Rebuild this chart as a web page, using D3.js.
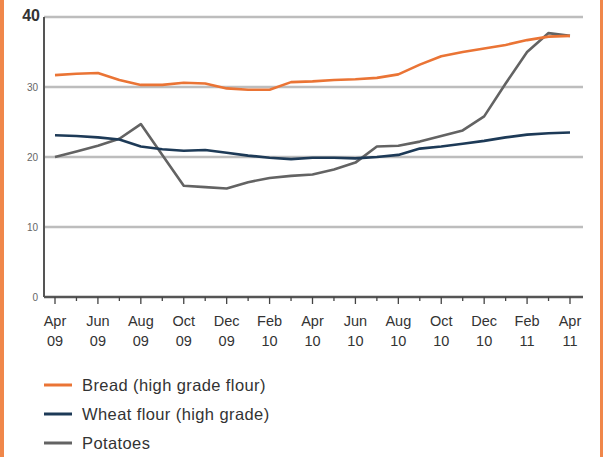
<!DOCTYPE html>
<html>
<head>
<meta charset="utf-8">
<script src="https://cdn.jsdelivr.net/npm/d3@7"></script>
<style>
  body { margin: 0; background: #fff; }
  svg { display: block; font-family: "Liberation Sans", Arial, sans-serif; }
</style>
</head>
<body>
<div id="chart"></div>
<script>
// monthly, Apr 2009 .. Apr 2011
var months = ["2009-04","2009-05","2009-06","2009-07","2009-08","2009-09","2009-10","2009-11","2009-12",
              "2010-01","2010-02","2010-03","2010-04","2010-05","2010-06","2010-07","2010-08","2010-09",
              "2010-10","2010-11","2010-12","2011-01","2011-02","2011-03","2011-04"];

var bread = [31.7, 31.9, 32.0, 31.0, 30.3, 30.3, 30.6, 30.5, 29.8, 29.6, 29.6, 30.7, 30.8,
             31.0, 31.1, 31.3, 31.8, 33.2, 34.4, 35.0, 35.5, 36.0, 36.7, 37.2, 37.3];
var wheat = [23.1, 23.0, 22.8, 22.5, 21.5, 21.1, 20.9, 21.0, 20.6, 20.2, 19.9, 19.7, 19.9,
             19.9, 19.8, 20.0, 20.3, 21.2, 21.5, 21.9, 22.3, 22.8, 23.2, 23.4, 23.5];
var potatoes = [20.0, 20.8, 21.6, 22.6, 24.7, 20.3, 15.9, 15.7, 15.5, 16.4, 17.0, 17.3, 17.5,
                18.2, 19.2, 21.5, 21.6, 22.2, 23.0, 23.8, 25.8, 30.5, 35.0, 37.7, 37.3];

var tickMonths = ["Apr","Jun","Aug","Oct","Dec","Feb","Apr","Jun","Aug","Oct","Dec","Feb","Apr"];
var tickYears  = ["09","09","09","09","09","10","10","10","10","10","10","11","11"];
var yTicks = [0, 10, 20, 30, 40];

var series = [
    {name: "Bread (high grade flour)", values: bread, color: "#ea7435"},
    {name: "Wheat flour (high grade)", values: wheat, color: "#1d3a57"},
    {name: "Potatoes", values: potatoes, color: "#636363"}
];

var W = 603, H = 457;
var svg = d3.select("#chart").append("svg").attr("width", W).attr("height", H);

// orange frame edges
svg.append("rect").attr("x", 0).attr("y", 0).attr("width", 4).attr("height", H).attr("fill", "#f0874a");
svg.append("rect").attr("x", 600).attr("y", 0).attr("width", 3).attr("height", H).attr("fill", "#f0874a");

var x = d3.scalePoint().domain(months).range([55, 570]);
var y = d3.scaleLinear().domain([0, 40]).range([297, 17]);
var left = 44, right = 583;

// grid
svg.append("g").selectAll("line")
    .data(yTicks.filter(function(d) { return d > 0; }))
    .enter().append("line")
    .attr("x1", left).attr("x2", right)
    .attr("y1", function(d) { return y(d); }).attr("y2", function(d) { return y(d); })
    .attr("stroke", "#bdbdbd").attr("stroke-width", 2.5);

// y labels
svg.append("g").selectAll("text")
    .data(yTicks)
    .enter().append("text")
    .attr("x", function(d) { return d === 40 ? 40 : 38; })
    .attr("y", function(d) { return y(d) + (d === 40 ? 4 : 3.5); })
    .attr("text-anchor", "end")
    .style("font-size", function(d) { return d === 40 ? "16px" : "10px"; })
    .style("font-weight", function(d) { return d === 40 ? "bold" : "normal"; })
    .style("fill", function(d) { return d === 40 ? "#333" : "#666"; })
    .text(function(d) { return d; });

// y axis line
svg.append("line").attr("x1", left).attr("x2", left).attr("y1", y(40)).attr("y2", y(0))
    .attr("stroke", "#555").attr("stroke-width", 2);

// x axis with month ticks
var xAxis = svg.append("g").attr("transform", "translate(0," + y(0) + ")");
xAxis.append("line").attr("x1", left).attr("x2", right).attr("stroke", "#555").attr("stroke-width", 2.5);
xAxis.selectAll(".tick")
    .data(months)
    .enter().append("line")
    .attr("x1", function(d) { return x(d); }).attr("x2", function(d) { return x(d); })
    .attr("y1", 0).attr("y2", function(d, i) { return i % 2 === 0 ? 7 : 4; })
    .attr("stroke", "#444").attr("stroke-width", 1.3);

var labels = xAxis.selectAll(".lbl")
    .data(months.filter(function(d, i) { return i % 2 === 0; }))
    .enter().append("text")
    .attr("text-anchor", "middle")
    .style("font-size", "14.5px")
    .style("fill", "#333");
labels.append("tspan").attr("x", function(d) { return x(d); }).attr("y", 29)
    .text(function(d, i) { return tickMonths[i]; });
labels.append("tspan").attr("x", function(d) { return x(d); }).attr("y", 49)
    .text(function(d, i) { return tickYears[i]; });

// lines
var line = d3.line()
    .x(function(d, i) { return x(months[i]); })
    .y(function(d) { return y(d); });

[series[2], series[1], series[0]].forEach(function(s) {
    svg.append("path")
        .datum(s.values)
        .attr("d", line)
        .attr("fill", "none")
        .attr("stroke", s.color)
        .attr("stroke-width", 2.6)
        .attr("stroke-linejoin", "round");
});

// legend
var legend = svg.append("g").attr("transform", "translate(44,385)");
series.forEach(function(s, i) {
    var g = legend.append("g").attr("transform", "translate(0," + (i * 29) + ")");
    g.append("line").attr("x1", 0).attr("x2", 28).attr("stroke", s.color).attr("stroke-width", 3);
    g.append("text").attr("x", 38).attr("y", 6)
        .style("font-size", "16.5px").style("letter-spacing", "0.4px")
        .style("fill", "#333").text(s.name);
});
</script>
</body>
</html>
